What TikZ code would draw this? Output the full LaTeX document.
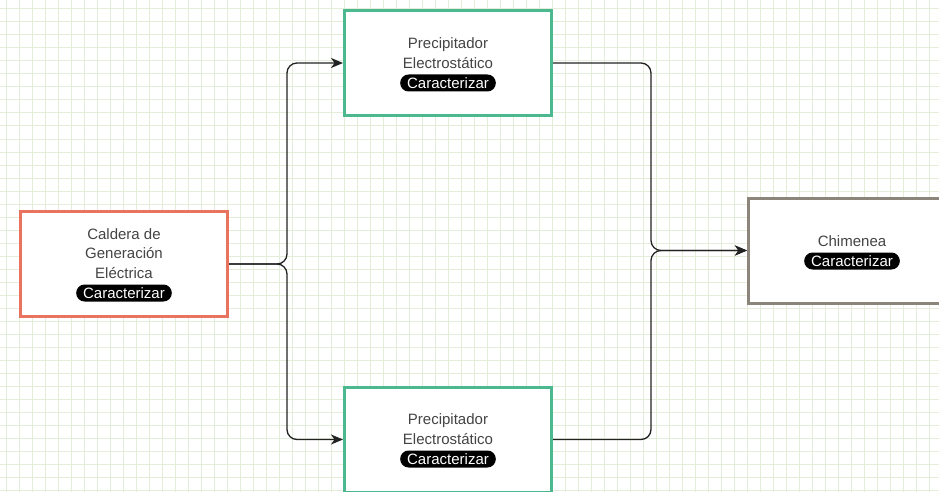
\documentclass[tikz,border=0pt]{standalone}
\usepackage{fontspec}
\setmainfont{Liberation Sans}
\usetikzlibrary{positioning,arrows.meta}
\definecolor{rojo}{HTML}{E8735F}
\definecolor{verde}{HTML}{4BB890}
\definecolor{gristierra}{HTML}{8C857B}
\definecolor{rejilla}{HTML}{E4ECDA}
\definecolor{gristexto}{HTML}{444444}
\definecolor{linea}{HTML}{222222}
\tikzset{
  caja/.style={draw, fill=white, line width=3pt, minimum width=207pt, minimum height=105pt},
  pill/.style={fill=black, text=white, rounded corners=8.5pt, inner xsep=7pt, inner ysep=0pt,
    minimum height=17pt, font=\fontsize{15}{18}\selectfont},
  texto/.style={text=gristexto, align=center, inner sep=0pt, font=\fontsize{15}{19.5}\selectfont},
  flujo/.style={draw=linea, line width=1.3pt, rounded corners=10pt,
    -{Stealth[length=12pt,width=10pt,inset=3.5pt]}},
  fondo/.style={draw=rejilla, line width=1pt}
}
\begin{document}
\begin{tikzpicture}[x=1pt,y=-1pt]
      \useasboundingbox (0,0) rectangle (939,492);
      \clip (0,0) rectangle (939,492);
      \fill[white] (0,0) rectangle (939,492);
      % rejilla
      \foreach \x in {6,19,...,938}
        \draw[fondo] (\x,0) -- (\x,492);
      \foreach \y in {9,22,...,491}
        \draw[fondo] (0,\y) -- (939,\y);
      % cajas
      \node[caja, draw=rojo] (caldera) at (124,264) {};
      \node[caja, draw=verde] (precip1) at (448,63) {};
      \node[caja, draw=verde] (precip2) at (448,439.5) {};
      \node[caja, draw=gristierra] (chimenea) at (852,250.5) {};
      % textos
      \node[pill] (calderaTag) at ([yshift=-29pt]caldera.center) {Caracterizar};
      \node[texto, above=5.5pt of calderaTag] (calderaTxt) {Caldera de\\Generación\\Eléctrica};
      \node[pill] (precip1Tag) at ([yshift=-20pt]precip1.center) {Caracterizar};
      \node[texto, above=5.5pt of precip1Tag] (precip1Txt) {Precipitador\\Electrostático};
      \node[pill] (precip2Tag) at ([yshift=-19.5pt]precip2.center) {Caracterizar};
      \node[texto, above=5.5pt of precip2Tag] (precip2Txt) {Precipitador\\Electrostático};
      \node[pill] (chimeneaTag) at ([yshift=-10.5pt]chimenea.center) {Caracterizar};
      \node[texto, above=5.5pt of chimeneaTag] (chimeneaTxt) {Chimenea};
      % conexiones
      \coordinate (reparto) at (287,264);
      \coordinate (union) at (651,250.5);
      \begin{scope}
        \draw[flujo] (caldera.east) -- (reparto) |- (precip1.west);
        \draw[flujo] (caldera.east) -- (reparto) |- (precip2.west);
        \draw[flujo] (precip1.east) -| (union) -- (chimenea.west);
        \draw[flujo] (precip2.east) -| (union) -- (chimenea.west);
      \end{scope}
    \end{tikzpicture}
\end{document}
